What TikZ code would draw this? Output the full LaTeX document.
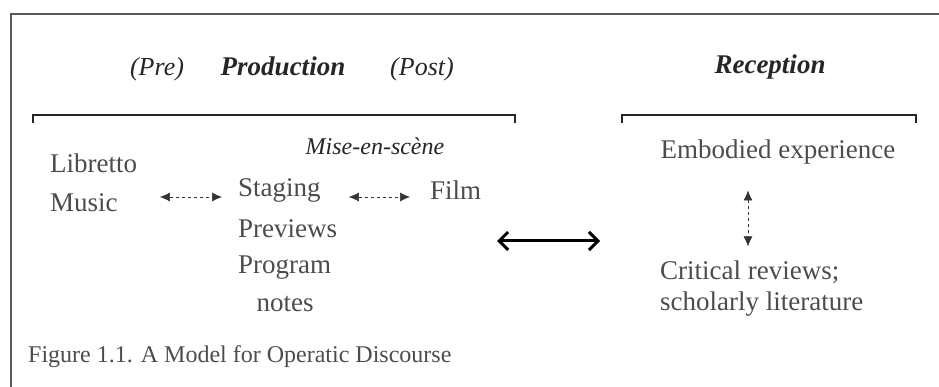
\documentclass[tikz,border=0pt]{standalone}
\usepackage{fontspec}
\setmainfont{Liberation Serif}
\usetikzlibrary{arrows.meta,positioning,calc}

\begin{document}
\begin{tikzpicture}
      [ x=1pt, y=-1pt,
        txt/.style={inner sep=0pt, text=black!70,
                    font=\fontsize{27}{31}\selectfont},
        head/.style={txt, text=black!85, font=\fontsize{26}{30}\selectfont\itshape},
        boldhead/.style={head, font=\fontsize{27}{31}\selectfont\bfseries\itshape},
        pair/.style={{Latex[length=10pt,width=9pt]}-{Latex[length=10pt,width=9pt]},
                     black!80, line width=0.6pt, dash pattern=on 3pt off 3pt},
        bracket/.style={line width=2.5pt, black!85},
        bothways/.style={{Straight Barb[length=9pt,width=18pt]}-{Straight Barb[length=9pt,width=18pt]},
                     line width=3pt}
      ]
      \useasboundingbox (0,0) rectangle (939,387);
      % frame
      \draw[line width=2.5pt, black!65] (11,400) -- (11,14) -- (950,14);

      % headings
      \node[boldhead,anchor=base] (prod)  at (283,76) {Production};
      \node[head,anchor=base]     (pre)   at (157,76) {(Pre)};
      \node[head,anchor=base]     (post)  at (422,76) {(Post)};
      \node[boldhead,anchor=base] (recep) at (770,74) {Reception};
      \draw[bracket] (33,123) -- (33,115) -- (515,115) -- (515,123);
      \draw[bracket] (622,123) -- (622,115) -- (916,115) -- (916,123);

      % production side
      \node[head,font=\fontsize{24}{28}\selectfont\itshape] (mise) at (375,146) {Mise-en-scène};
      \node[txt,anchor=west] (libretto) at (50,163) {Libretto};
      \node[txt,anchor=west] (music)    at (50,203) {Music};
      \node[txt,anchor=west] (staging)  at (238,190) {Staging};
      \node[txt,anchor=west] (previews) at (238,229) {Previews};
      \node[txt,anchor=west] (program)  at (238,268) {Program};
      \node[txt]             (notes)    at (285,304) {notes};
      \node[txt,anchor=west] (film)     at (430,190) {Film};

      % reception side
      \node[txt] (embodied) at (778,152) {Embodied experience};
      \node[txt,anchor=west] (critical)  at (660,272) {Critical reviews;};
      \node[txt,anchor=west] (scholarly) at (660,304) {scholarly literature};
      \coordinate (vx) at (748,0);

      \node[txt,font=\fontsize{24}{28}\selectfont,anchor=west] (caption) at (28,357)
        {Figure 1.1. A Model for Operatic Discourse};

      \draw[pair] ([xshift=42pt,yshift=6pt]music.east) -- ([xshift=-16pt,yshift=-7pt]staging.west);
      \draw[pair] ([xshift=28pt,yshift=-7pt]staging.east) -- ([xshift=-20pt,yshift=-7pt]film.west);
      \draw[pair] ($(embodied.south -| vx)+(0,26)$) -- ($(critical.north -| vx)+(0,-14)$);

      \coordinate (bigL) at (497,241);
      \coordinate (bigR) at (600,241);
      \draw[bothways] (bigL) -- (bigR);
    \end{tikzpicture}
\end{document}
